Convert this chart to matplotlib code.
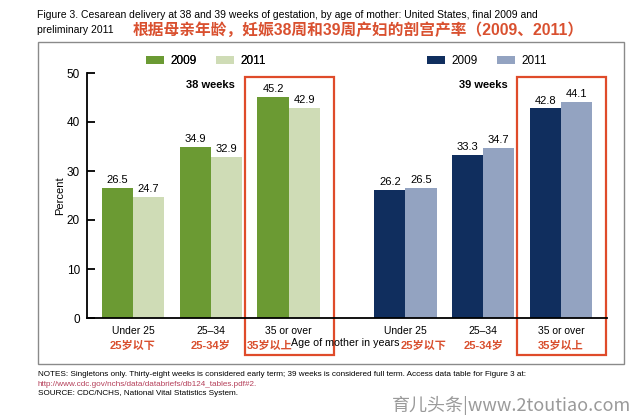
import matplotlib.pyplot as plt
import matplotlib.patches as mpatches
import numpy as np

plt.rcParams['font.family'] = ['Liberation Sans', 'Noto Sans CJK SC', 'DejaVu Sans']

# data
age_groups = ['Under 25', '25–34', '35 or over']
age_groups_cn = ['25岁以下', '25-34岁', '35岁以上']
w38_2009 = [26.5, 34.9, 45.2]
w38_2011 = [24.7, 32.9, 42.9]
w39_2009 = [26.2, 33.3, 42.8]
w39_2011 = [26.5, 34.7, 44.1]
years = ['2009', '2011']

# colours
green_dark = '#6b9a33'
green_light = '#cfdcb6'
navy = '#102e5e'
blue_light = '#93a3c1'
red = '#df4b2a'
red_txt = '#d9502f'

fig = plt.figure(figsize=(6.4, 4.15), dpi=100)
ax = fig.add_axes([87/640, 1-318/415, (607-87)/640, 245/415])

x38 = np.arange(3)
x39 = np.arange(3) + 3.5
bw = 0.4

b1 = ax.bar(x38 - bw/2, w38_2009, bw, color=green_dark, label=years[0])
b2 = ax.bar(x38 + bw/2, w38_2011, bw, color=green_light, label=years[1])
b3 = ax.bar(x39 - bw/2, w39_2009, bw, color=navy, label=years[0])
b4 = ax.bar(x39 + bw/2, w39_2011, bw, color=blue_light, label=years[1])
for b in (b1, b2, b3, b4):
    ax.bar_label(b, fmt='%.1f', padding=2, fontsize=8)

ax.set_xlim(-0.59, 6.09)
ax.set_ylim(0, 50)
ax.set_yticks(range(0, 51, 10))
ax.tick_params(axis='y', direction='in', length=6, width=1.3, labelsize=8.5, pad=5)
ax.set_xticks([])
for s in ['top', 'right']:
    ax.spines[s].set_visible(False)
ax.spines['left'].set_linewidth(1.3)
ax.spines['bottom'].set_linewidth(1.3)

# category labels (chinese ones are nudged in the original around the axis title)
xt = ax.get_xaxis_transform()
centers = list(x38) + list(x39)
cn_shift = [0, 0, -0.24, 0.23, 0, 0]
for i, c in enumerate(centers):
    ax.text(c, -13/245, age_groups[i % 3], transform=xt, ha='center', va='center', fontsize=7.5)
    ax.text(c + cn_shift[i], -28/245, age_groups_cn[i % 3], transform=xt, ha='center', va='center',
            fontsize=8, color=red_txt, fontweight='bold')
ax.text(2.73, -25/245, 'Age of mother in years', transform=xt, ha='center', va='center', fontsize=7.7)

# red boxes around 35 or over
for c in (x38[2], x39[2]):
    ax.add_patch(mpatches.Rectangle((c - 0.56, -7.55), 1.14, 49.2 + 7.55, fill=False,
                                    edgecolor=red, lw=1.6, clip_on=False))

ax.text(1.0, 47.5, '38 weeks', ha='center', va='center', fontsize=8, fontweight='bold')
ax.text(4.5, 47.5, '39 weeks', ha='center', va='center', fontsize=8, fontweight='bold')

leg1 = fig.legend(handles=[b1, b2], loc='center', bbox_to_anchor=(206/640, 1-61/415), ncol=2,
                  frameon=False, fontsize=8.5, handlelength=1.5, handleheight=0.6,
                  handletextpad=0.6, columnspacing=1.6)
fig.add_artist(leg1)
fig.legend(handles=[b3, b4], loc='center', bbox_to_anchor=(487/640, 1-61/415), ncol=2,
           frameon=False, fontsize=8.5, handlelength=1.5, handleheight=0.6,
           handletextpad=0.6, columnspacing=1.6)

fig.text(60/640, 1-196/415, 'Percent', rotation=90, ha='center', va='center', fontsize=8)

# titles
fig.text(37/640, 1-15/415, 'Figure 3. Cesarean delivery at 38 and 39 weeks of gestation, by age of mother: '
         'United States, final 2009 and', ha='left', va='center', fontsize=7.5)
fig.text(37/640, 1-30/415, 'preliminary 2011', ha='left', va='center', fontsize=7.5)
fig.text(133/640, 1-30/415, '根据母亲年龄，妊娠38周和39周产妇的剖宫产率（2009、2011）',
         ha='left', va='center', fontsize=11.3, color=red_txt, fontweight='bold')

# frame
fig.add_artist(mpatches.Rectangle((38/640, 1-364/415), (624-38)/640, (364-42)/415, fill=False,
                                  edgecolor='#8a8a8a', lw=1, transform=fig.transFigure))

# notes
fig.text(38/640, 1-374/415, 'NOTES: Singletons only. Thirty-eight weeks is considered early term; 39 weeks is '
         'considered full term. Access data table for Figure 3 at:', ha='left', va='center', fontsize=5.85)
fig.text(38/640, 1-384/415, 'http://www.cdc.gov/nchs/data/databriefs/db124_tables.pdf#2.',
         ha='left', va='center', fontsize=5.85, color='#b5405a')
fig.text(38/640, 1-393/415, 'SOURCE: CDC/NCHS, National Vital Statistics System.',
         ha='left', va='center', fontsize=5.85)
fig.text(631/640, 1-406/415, '育儿头条|www.2toutiao.com', ha='right', va='center',
         fontsize=13, color='#9a9a9a', family=['Noto Sans CJK SC', 'DejaVu Sans'], fontweight='light')

fig.savefig('out.png', dpi=100)
